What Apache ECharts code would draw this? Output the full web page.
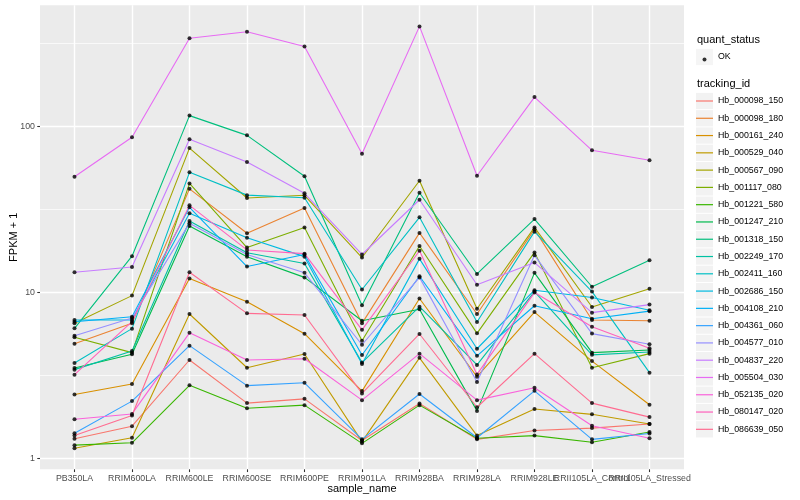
<!DOCTYPE html>
<html><head><meta charset="utf-8">
<script src="https://cdn.jsdelivr.net/npm/echarts@6/dist/echarts.min.js"></script>
<style>html,body{margin:0;padding:0;background:#fff}#c{width:800px;height:500px}</style>
</head><body><div id="c"></div>
<script>
const sampleNames = ['PB350LA','RRIM600LA','RRIM600LE','RRIM600SE','RRIM600PE','RRIM901LA','RRIM928BA','RRIM928LA','RRIM928LE','RRII105LA_Control','RRII105LA_Stressed'];
const trackingIds = ['Hb_000098_150','Hb_000098_180','Hb_000161_240','Hb_000529_040','Hb_000567_090','Hb_001117_080','Hb_001221_580','Hb_001247_210','Hb_001318_150','Hb_002249_170','Hb_002411_160','Hb_002686_150','Hb_004108_210','Hb_004361_060','Hb_004577_010','Hb_004837_220','Hb_005504_030','Hb_052135_020','Hb_080147_020','Hb_086639_050'];
const yTickValues = [1, 10, 100];

// FPKM + 1 per sample (same order as sampleNames)
const Hb_000098_150 = [1.31, 1.56, 3.91, 2.15, 2.28, 1.28, 2.14, 1.30, 1.47, 1.52, 1.61];
const Hb_000098_180 = [4.9, 6.5, 42.0, 22.7, 32.2, 6.5, 22.8, 7.40, 23.95, 6.81, 6.74];
const Hb_000161_240 = [2.42, 2.8, 12.1, 8.77, 5.63, 2.54, 9.17, 3.1, 7.6, 3.85, 2.10];
const Hb_000529_040 = [1.15, 1.33, 7.4, 3.51, 4.25, 1.26, 4.03, 1.37, 1.98, 1.84, 1.61];
const Hb_000567_090 = [6.5, 9.55, 73.9, 37.0, 38.4, 16.2, 47, 7.96, 24.6, 8.15, 10.5];
const Hb_001117_080 = [5.36, 4.33, 45.3, 18.6, 24.6, 5.11, 19.0, 5.66, 17.4, 3.51, 4.27];
const Hb_001221_580 = [1.2, 1.24, 2.75, 2.0, 2.09, 1.23, 2.09, 1.32, 1.37, 1.25, 1.44];
const Hb_001247_210 = [3.5, 4.23, 25.1, 16.4, 12.3, 6.74, 7.9, 1.93, 13.1, 4.33, 4.49];
const Hb_001318_150 = [6.07, 16.5, 116, 88.2, 50, 8.36, 39.8, 12.9, 27.6, 10.8, 15.6];
const Hb_002249_170 = [3.42, 4.43, 26.9, 17.3, 14.9, 3.77, 8.19, 3.65, 10.1, 4.2, 4.37];
const Hb_002411_160 = [3.75, 6.04, 52.8, 38.5, 37.1, 10.4, 28.3, 6.62, 23.2, 10.1, 3.28];
const Hb_002686_150 = [6.81, 6.81, 29.9, 21.3, 16.4, 3.7, 15.9, 4.57, 10.3, 9.3, 7.8];
const Hb_004108_210 = [6.65, 7.13, 32.5, 14.3, 16.9, 4.19, 12.5, 4.14, 8.3, 6.93, 7.7];
const Hb_004361_060 = [1.415, 2.21, 4.77, 2.74, 2.85, 1.30, 2.44, 1.33, 2.55, 1.30, 1.41];
const Hb_004577_010 = [5.48, 7.0, 26.1, 16.9, 13.1, 4.83, 12.3, 2.88, 16.7, 5.64, 4.86];
const Hb_004837_220 = [13.2, 14.2, 83.6, 60.9, 39.5, 16.9, 36.1, 11.1, 15.1, 7.54, 8.43];
const Hb_005504_030 = [49.7, 85.9, 339, 371, 303, 68.4, 400, 50.4, 150, 71.7, 62.4];
const Hb_052135_020 = [1.72, 1.85, 5.7, 3.91, 3.98, 2.24, 4.27, 2.24, 2.66, 1.57, 1.32];
const Hb_080147_020 = [3.19, 6.65, 33.4, 18.0, 17.1, 5.94, 17.8, 3.2, 9.96, 6.2, 4.60];
const Hb_086639_050 = [1.37, 1.81, 13.2, 7.47, 7.3, 2.46, 5.61, 2.03, 4.27, 2.15, 1.77];

const seriesValues = [Hb_000098_150,Hb_000098_180,Hb_000161_240,Hb_000529_040,Hb_000567_090,Hb_001117_080,Hb_001221_580,Hb_001247_210,Hb_001318_150,Hb_002249_170,Hb_002411_160,Hb_002686_150,Hb_004108_210,Hb_004361_060,Hb_004577_010,Hb_004837_220,Hb_005504_030,Hb_052135_020,Hb_080147_020,Hb_086639_050];
const palette = ['#F8766D','#EA8331','#D89000','#C09B00','#A3A500','#7CAE00','#39B600','#00BB4E','#00BF7D','#00C1A3','#00BFC4','#00BAE0','#00B0F6','#35A2FF','#9590FF','#C77CFF','#E76BF3','#FA62DB','#FF62BC','#FF6C91'];

const FONT = 'Liberation Sans, Arial, sans-serif';
const lg = Math.log10;
let all = [];
seriesValues.forEach(a => a.forEach(v => all.push(lg(v))));
const lo = Math.min(...all), hi = Math.max(...all), pad = (hi - lo) * 0.05;

const lineSeries = trackingIds.map((name, i) => ({
  name, type: 'line', showSymbol: false, symbol: 'none',
  data: seriesValues[i].map((v, j) => [j, lg(v)]),
  lineStyle: { color: palette[i], width: 1.1 },
  itemStyle: { color: palette[i] },
  emphasis: { disabled: true }, z: 2, silent: true
}));
const pts = [];
seriesValues.forEach(a => a.forEach((v, j) => pts.push([j, lg(v)])));
const pointSeries = { name: 'OK', type: 'scatter', data: pts, symbolSize: 4,
  itemStyle: { color: '#000' }, z: 3, silent: true, emphasis: { disabled: true } };

const legendBase = { orient: 'vertical', left: 696, padding: 0, itemGap: 1, itemWidth: 17, itemHeight: 16.28,
  selectedMode: false, textStyle: { fontSize: 8.8, color: '#000', fontFamily: FONT } };
const hiddenText = { fontSize: 8.8, color: 'rgba(0,0,0,0)', fontFamily: FONT, lineHeight: 16.28 };

const idx = sampleNames.map((s, i) => i);
const evenIdx = idx.filter(i => i % 2 === 0), oddIdx = idx.filter(i => i % 2 === 1);
function xAxisFor(vals, withName) {
  return {
    type: 'value', min: -0.6, max: sampleNames.length - 0.4, position: 'bottom',
    name: withName ? 'sample_name' : '', nameLocation: 'middle', nameGap: 14, nameMoveOverlap: false,
    nameTextStyle: { fontSize: 11, color: '#000', fontFamily: FONT, verticalAlign: 'top' },
    axisLine: { show: false, onZero: false },
    axisTick: { show: true, length: 2.75, lineStyle: { color: '#333', width: 1.07 }, customValues: vals },
    axisLabel: { customValues: vals, formatter: v => sampleNames[Math.round(v)], fontSize: 8.8, color: '#4D4D4D', fontFamily: FONT, margin: 5, hideOverlap: false },
    splitLine: { show: true, lineStyle: { color: '#fff', width: 1.4 } },
    minorSplitLine: { show: false }
  };
}

const chart = echarts.init(document.getElementById('c'), null, { renderer: 'canvas' });
chart.setOption({
  animation: false,
  backgroundColor: '#fff',
  grid: { left: 40, right: 116, top: 5.3, bottom: 30.7, containLabel: false, outerBoundsMode: 'none',
          show: true, backgroundColor: '#EBEBEB', borderWidth: 0 },
  xAxis: [xAxisFor(evenIdx, true), xAxisFor(oddIdx, false)],
  yAxis: {
    type: 'value', min: lo - pad, max: hi + pad, splitNumber: 3,
    name: 'FPKM + 1', nameLocation: 'middle', nameGap: 21, nameRotate: 90, nameMoveOverlap: false,
    nameTextStyle: { fontSize: 11, color: '#000', fontFamily: FONT },
    axisLine: { show: false, onZero: false },
    axisTick: { show: true, length: 2.75, lineStyle: { color: '#333', width: 1.07 }, customValues: yTickValues.map(lg) },
    axisLabel: { customValues: yTickValues.map(lg), formatter: v => String(Math.round(Math.pow(10, v))), fontSize: 8.8, color: '#4D4D4D', fontFamily: FONT, margin: 5 },
    splitLine: { show: true, lineStyle: { color: '#fff', width: 1.4 } },
    minorTick: { show: false, splitNumber: 2 },
    minorSplitLine: { show: true, lineStyle: { color: '#fff', width: 0.7 } }
  },
  legend: [
    Object.assign({}, legendBase, { top: 57 - 8.14, data: ['OK'], icon: 'rect', itemStyle: { color: '#F2F2F2' }, z: 4 }),
    Object.assign({}, legendBase, { left: 696 + 8.5 - 2, top: 55, itemWidth: 4, itemHeight: 4, data: ['OK'], icon: 'circle', itemStyle: { color: '#000' }, textStyle: { fontSize: 8.8, color: 'rgba(0,0,0,0)' }, z: 5 }),
    Object.assign({}, legendBase, { top: 101 - 8.14, data: trackingIds, icon: 'rect', itemStyle: { color: '#F2F2F2' }, z: 4 }),
    Object.assign({}, legendBase, { top: 101 - 8.14, data: trackingIds.map((n, i) => ({ name: n, itemStyle: { color: palette[i] } })), icon: 'path://M0 0H17V1.2H0Z', textStyle: hiddenText, z: 5 })
  ],
  graphic: [
    { type: 'text', left: 697, top: 34, style: { text: 'quant_status', fontSize: 11, fill: '#000', fontFamily: FONT } },
    { type: 'text', left: 697, top: 78, style: { text: 'tracking_id', fontSize: 11, fill: '#000', fontFamily: FONT } }
  ],
  series: lineSeries.concat([pointSeries])
});
</script></body></html>
